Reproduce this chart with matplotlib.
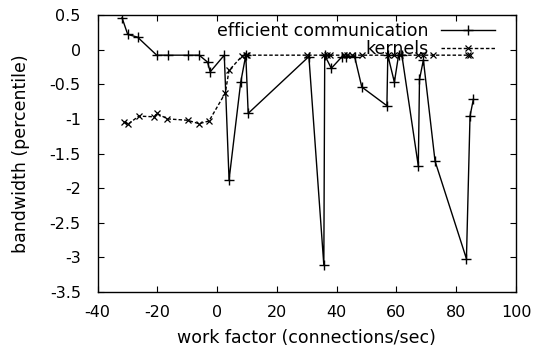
import matplotlib
matplotlib.use("Agg")
import matplotlib.pyplot as plt

# efficient communication series
eff_x = [-31.8, -29.9, -26.6, -20.2, -16.3, -9.6, -6.0, -3.2, -2.3, 2.4, 4.0, 7.9, 9.6, 10.4,
         30.7, 35.7, 36.0, 38.2, 41.8, 43.0, 46.0, 48.4, 56.8, 57.1, 59.3, 60.7, 61.8,
         67.3, 67.7, 69.0, 72.9, 83.4, 84.6, 85.7]
eff_y = [0.46, 0.22, 0.18, -0.08, -0.08, -0.08, -0.08, -0.18, -0.32, -0.08, -1.88, -0.47, -0.08, -0.92,
         -0.10, -3.11, -0.08, -0.27, -0.10, -0.10, -0.10, -0.54, -0.81, -0.08, -0.47, -0.08, -0.08,
         -1.68, -0.43, -0.15, -1.61, -3.02, -0.96, -0.72]

# kernels series
ker_x = [-31.0, -29.9, -26.2, -21.0, -20.2, -16.6, -9.9, -6.0, -2.7, 2.7, 4.0, 8.4, 9.6, 10.0,
         30.1, 35.7, 36.7, 37.9, 42.3, 43.4, 45.1, 48.4, 57.3, 59.3, 61.2, 67.3, 69.0, 72.3,
         84.0, 84.6]
ker_y = [-1.04, -1.08, -0.96, -0.97, -0.92, -1.00, -1.02, -1.07, -1.03, -0.63, -0.30, -0.09, -0.08, -0.08,
         -0.08, -0.08, -0.08, -0.08, -0.08, -0.08, -0.08, -0.08, -0.08, -0.08, -0.08, -0.08, -0.08, -0.08,
         -0.08, -0.08]

xticks = [-40, -20, 0, 20, 40, 60, 80, 100]
yticks = [0.5, 0, -0.5, -1, -1.5, -2, -2.5, -3, -3.5]

plt.rcParams['font.family'] = ['DejaVu Sans']
fig = plt.figure(figsize=(5.37, 3.49), dpi=100)
ax = fig.add_axes([0.1816, 0.1633, 0.961 - 0.1816, 0.957 - 0.1633])

ax.plot(eff_x, eff_y, color='black', lw=1.0, marker='+', ms=7, mew=1.0,
        label='efficient communication')
ax.plot(ker_x, ker_y, color='black', lw=1.0, ls=(0, (2.5, 1.5)), marker='x', ms=4.5, mew=0.9,
        label='kernels')

ax.set_xlim(-40, 100)
ax.set_ylim(-3.5, 0.5)
ax.set_xticks(xticks)
ax.set_yticks(yticks)
ax.set_xticklabels([str(t) for t in xticks])
ax.set_yticklabels(['%g' % t for t in yticks])
ax.tick_params(direction='in', top=True, right=True, length=4, labelsize=11.5, colors='black')
ax.tick_params(axis='x', pad=9)
ax.tick_params(axis='y', pad=12)
for s in ax.spines.values():
    s.set_linewidth(1.0)
ax.set_xlabel('work factor (connections/sec)', fontsize=12.5, labelpad=7)
ax.set_ylabel('bandwidth (percentile)', fontsize=12.5, labelpad=14)

ax.legend(loc='upper right', bbox_to_anchor=(0.95, 0.975), frameon=False, markerfirst=False,
          fontsize=12.5, handlelength=3.1, borderaxespad=0, borderpad=0,
          labelspacing=0.0, handletextpad=0.75)

fig.savefig('out.png', dpi=100)
